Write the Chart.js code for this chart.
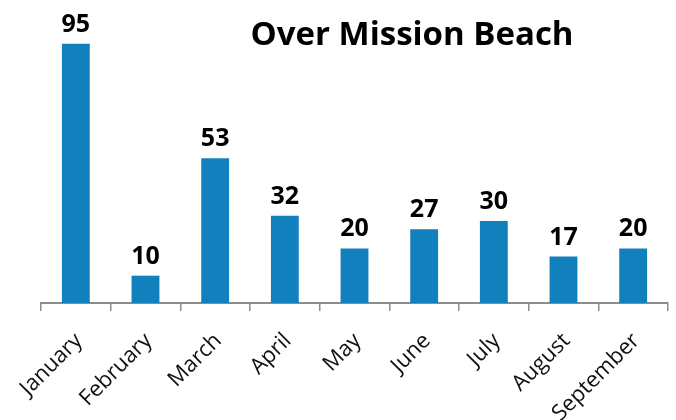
<!DOCTYPE html>
<html>
<head>
<meta charset="utf-8">
<script src="https://cdn.jsdelivr.net/npm/chart.js@4"></script>
<style>
  html, body { margin: 0; padding: 0; background: #fff; }
  #wrap { width: 676px; height: 420px; }
</style>
</head>
<body>
<div id="wrap"><canvas id="chart"></canvas></div>
<script>
const months = ["January", "February", "March", "April", "May", "June", "July", "August", "September"];
const counts = [95, 10, 53, 32, 20, 27, 30, 17, 20];
const chartTitle = "Over Mission Beach";

const barColor = "#1380be";
const fontFamily = "'Open Sans', sans-serif";

// value labels above each bar + the title floating at top right
const labelPlugin = {
  id: "labels",
  afterDatasetsDraw(chart) {
    const ctx = chart.ctx;
    const meta = chart.getDatasetMeta(0);
    ctx.save();
    ctx.fillStyle = "#000";
    ctx.textAlign = "center";
    ctx.textBaseline = "alphabetic";
    ctx.font = "bold 25px " + fontFamily;
    meta.data.forEach((bar, i) => {
      ctx.fillText(String(counts[i]), bar.x, bar.y - 12);
    });
    ctx.font = "bold 33px " + fontFamily;
    ctx.fillText(chartTitle, 412, 45);
    ctx.restore();
  },
};

const ctx = document.getElementById("chart").getContext("2d");
new Chart(ctx, {
  type: "bar",
  data: {
    labels: months,
    datasets: [
      {
        data: counts,
        backgroundColor: barColor,
        borderWidth: 0,
        barPercentage: 0.4,
        categoryPercentage: 1,
      },
    ],
  },
  options: {
    responsive: true,
    maintainAspectRatio: false,
    animation: { duration: 0 },
    layout: { padding: { top: 30, left: 41, right: 8, bottom: 0 } },
    plugins: {
      legend: { display: false },
      tooltip: { enabled: false },
    },
    scales: {
      x: {
        grid: {
          offset: true,
          drawOnChartArea: false,
          drawTicks: true,
          tickLength: 8,
          color: "#8c8c8c",
          lineWidth: 1.5,
        },
        border: { display: true, color: "#8c8c8c", width: 2 },
        ticks: {
          minRotation: 45,
          maxRotation: 45,
          color: "#111",
          font: { family: fontFamily, size: 22 },
          padding: 17,
          labelOffset: 3,
        },
        afterFit(scale) {
          scale.paddingLeft = 0;
          scale.paddingRight = 0;
          scale.height = 117;
        },
      },
      y: {
        display: false,
        min: 0,
        max: 100,
      },
    },
  },
  plugins: [labelPlugin],
});
</script>
</body>
</html>
